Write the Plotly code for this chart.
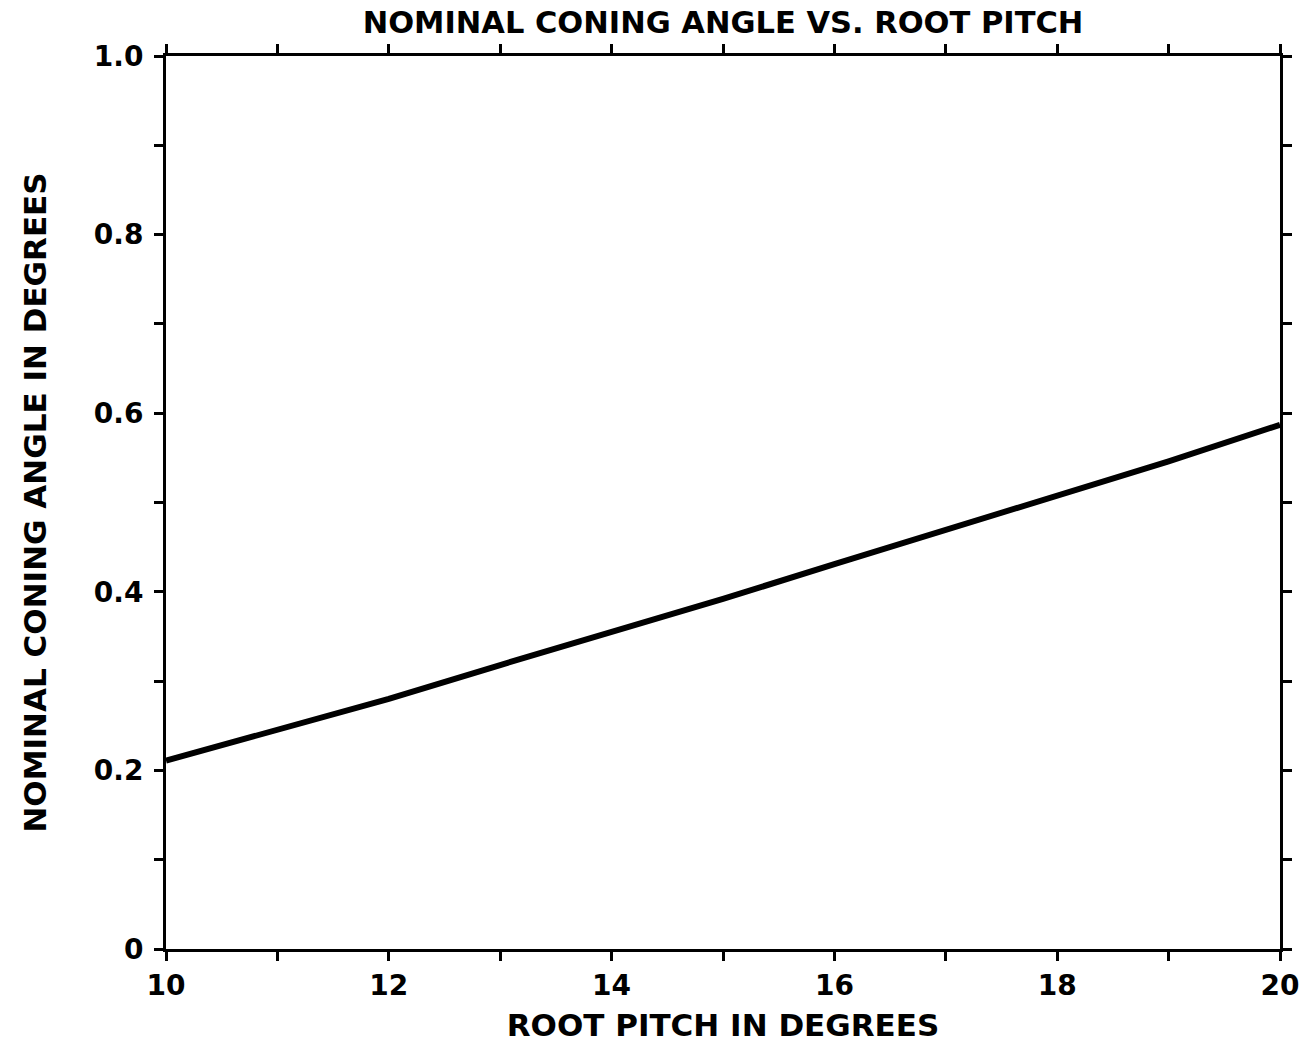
import plotly.graph_objects as go

root_pitch = [10, 11, 12, 13, 14, 15, 16, 17, 18, 19, 20]
coning_angle = [0.211, 0.245, 0.280, 0.318, 0.355, 0.392, 0.431, 0.469, 0.508, 0.546, 0.587]

x_tickvals = [10, 11, 12, 13, 14, 15, 16, 17, 18, 19, 20]
x_ticktext = ["10", "", "12", "", "14", "", "16", "", "18", "", "20"]
y_tickvals = [0, 0.1, 0.2, 0.3, 0.4, 0.5, 0.6, 0.7, 0.8, 0.9, 1.0]
y_ticktext = ["0", "", "0.2", "", "0.4", "", "0.6", "", "0.8", "", "1.0"]

FONT = "DejaVu Sans"

fig = go.Figure()
fig.add_trace(go.Scatter(x=root_pitch, y=coning_angle, mode="lines",
                         line=dict(color="black", width=6), showlegend=False))

fig.update_layout(
    width=1311, height=1049,
    margin=dict(l=166, r=31, t=56, b=98),
    paper_bgcolor="white", plot_bgcolor="white",
    font=dict(family=FONT, color="black", size=28),
    title=dict(text="NOMINAL CONING ANGLE VS. ROOT PITCH",
               x=0.5, xref="paper", xanchor="center",
               y=1 - 22 / 1049, yref="container", yanchor="middle",
               font=dict(family=FONT, size=30.5, color="black", weight="bold")),
)
fig.update_xaxes(
    range=[10, 20], tickvals=x_tickvals, ticktext=x_ticktext,
    ticks="outside", ticklen=9, tickwidth=3, tickcolor="black",
    showline=True, linewidth=3, linecolor="black", mirror="ticks",
    showgrid=False, zeroline=False,
    tickfont=dict(family=FONT, size=28, color="black", weight="bold"),
    title=dict(text="ROOT PITCH IN DEGREES", standoff=14,
               font=dict(family=FONT, size=31, color="black", weight="bold")),
)
fig.update_yaxes(
    range=[0, 1.0], tickvals=y_tickvals, ticktext=y_ticktext,
    ticks="outside", ticklen=9, tickwidth=3, tickcolor="black",
    showline=True, linewidth=3, linecolor="black", mirror="ticks",
    showgrid=False, zeroline=False, ticklabelstandoff=5,
    tickfont=dict(family=FONT, size=28, color="black", weight="bold"),
    title=dict(text="NOMINAL CONING ANGLE IN DEGREES", standoff=38,
               font=dict(family=FONT, size=31, color="black", weight="bold")),
)

fig.write_html("out.html")
